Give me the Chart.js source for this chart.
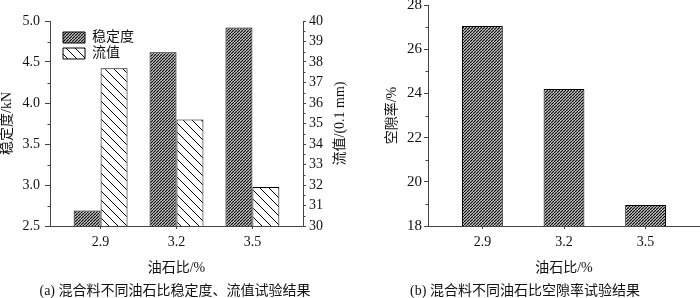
<!DOCTYPE html>
<html>
<head>
<meta charset="utf-8">
<script src="https://cdn.jsdelivr.net/npm/chart.js@4"></script>
<style>
  body { margin:0; background:#fff; }
  .row { display:flex; width:700px; height:298px; }
  canvas { display:block; }
</style>
</head>
<body>
<div class="row">
  <canvas id="c-stab" width="350" height="298"></canvas>
  <canvas id="c-void" width="350" height="298"></canvas>
</div>
<script>
// 油石比 categories and measured values
const ratios = [2.9, 3.2, 3.5];
const stability = [2.69, 4.62, 4.92];   // kN
const flowValue = [37.7, 35.2, 31.9];   // 0.1 mm
const airVoids = [27.05, 24.2, 18.95];  // %

const stabMinor = [2.75, 3.25, 3.75, 4.25, 4.75];
const flowMinor = [30.5, 31.5, 32.5, 33.5, 34.5, 35.5, 36.5, 37.5, 38.5, 39.5];
const voidMinor = [19, 21, 23, 25, 27];

const AX = '#444';
Chart.defaults.font.family = "'Liberation Serif','Noto Sans CJK SC',serif";
Chart.defaults.font.size = 14;
Chart.defaults.color = '#111';
Chart.defaults.animation = false;

function hatch(size, lw, dir, color) {
  const c = document.createElement('canvas');
  c.width = size; c.height = size;
  const g = c.getContext('2d');
  g.fillStyle = '#fff'; g.fillRect(0, 0, size, size);
  g.strokeStyle = color; g.lineWidth = lw;
  g.beginPath();
  for (let k = -1; k <= 1; k++) {
    if (dir > 0) { g.moveTo(k*size, size); g.lineTo(k*size + size, 0); }
    else { g.moveTo(k*size, 0); g.lineTo(k*size + size, size); }
  }
  g.stroke();
  return g.createPattern(c, 'repeat');
}
const densePat = hatch(3, 1.4, 1, '#111');
const sparsePat = hatch(9, 1, -1, '#000');

const pts = (vals) => ratios.map((x, i) => ({ x, y: vals[i] }));

// small minor ticks drawn through the scales
const minorTicks = {
  id: 'minorTicks',
  afterDraw(chart, args, opts) {
    const ctx = chart.ctx;
    ctx.save(); ctx.strokeStyle = AX; ctx.lineWidth = 1;
    (opts.list || []).forEach(m => {
      const s = chart.scales[m.axis];
      m.values.forEach(v => {
        const y = Math.round(s.getPixelForValue(v)) + 0.5;
        const x0 = m.side === 'left' ? s.right : s.left;
        const d = m.side === 'left' ? -2.5 : 2.5;
        ctx.beginPath(); ctx.moveTo(x0, y); ctx.lineTo(x0 + d, y); ctx.stroke();
      });
    });
    ctx.restore();
  }
};

function xScale() {
  return {
    type: 'linear', min: 2.7, max: 3.7, offset: false,
    afterBuildTicks: s => { s.ticks = ratios.map(v => ({ value: v })); },
    afterFit: s => { s.height = 52; s.paddingLeft = 0; s.paddingRight = 0; },
    ticks: { callback: v => v.toFixed(1), padding: 5, autoSkip: false, maxRotation: 0, font: { size: 14 } },
    grid: { drawOnChartArea: false, drawTicks: true, tickLength: 3, color: AX, offset: false },
    border: { display: true, color: AX },
    title: { display: true, text: '油石比/%', font: { size: 14, lineHeight: 1 }, padding: { top: 0, bottom: 3 } }
  };
}
const caption = (t) => ({ display: true, position: 'bottom', text: t, color: '#111',
  font: { size: 14, weight: 'normal', lineHeight: 1 }, padding: { top: 6, bottom: 0 } });

// (a) stability & flow value
new Chart(document.getElementById('c-stab'), {
  type: 'bar',
  data: {
    datasets: [
      { label: '稳定度', data: pts(stability), yAxisID: 'y', backgroundColor: densePat, borderColor: '#000', borderWidth: 1 },
      { label: '流值', data: pts(flowValue), yAxisID: 'y1', backgroundColor: sparsePat, borderColor: '#000', borderWidth: 1 }
    ]
  },
  options: {
    responsive: false, devicePixelRatio: 1,
    categoryPercentage: 0.71, barPercentage: 1,
    layout: { padding: { top: 21, left: 0, right: 0, bottom: 0 } },
    scales: {
      x: xScale(),
      y: {
        position: 'left', min: 2.5, max: 5.0,
        afterFit: s => { s.width = 50; s.paddingTop = 0; s.paddingBottom = 0; },
        ticks: { stepSize: 0.5, callback: v => v.toFixed(1), padding: 5, font: { size: 14 } },
        grid: { drawOnChartArea: false, tickLength: 5, color: AX },
        border: { display: true, color: AX },
        title: { display: true, text: '稳定度/kN', font: { size: 14, lineHeight: 1 }, padding: { top: 0, bottom: 0 } }
      },
      y1: {
        position: 'right', min: 30, max: 40,
        afterFit: s => { s.width = 47; s.paddingTop = 0; s.paddingBottom = 0; },
        ticks: { stepSize: 1, padding: 3, font: { size: 14 } },
        grid: { drawOnChartArea: false, tickLength: 3, color: AX },
        border: { display: true, color: AX }
      }
    },
    plugins: {
      legend: { position: 'chartArea', align: 'start',
        labels: { boxWidth: 22, boxHeight: 11, padding: 2, font: { size: 14 }, color: '#111' } },
      title: caption('(a) 混合料不同油石比稳定度、流值试验结果'),
      tooltip: { enabled: false },
      minorTicks: { list: [ { axis: 'y', side: 'left', values: stabMinor }, { axis: 'y1', side: 'right', values: flowMinor } ] }
    }
  },
  plugins: [minorTicks, {
    id: 'legendPos',
    afterLayout(chart) {
      const lg = chart.legend, a = chart.chartArea;
      if (!lg) return;
      lg.left = a.left + 11; lg.top = a.top + 7.5;
      lg.right = lg.left + lg.width; lg.bottom = lg.top + lg.height;
    }
  }, {
    id: 'rightTitle',
    afterDraw(chart) {
      const s = chart.scales.y1, ctx = chart.ctx;
      ctx.save();
      ctx.translate(s.right - 10, (s.top + s.bottom) / 2);
      ctx.rotate(-Math.PI / 2);
      ctx.font = "14px 'Liberation Serif','Noto Sans CJK SC',serif";
      ctx.fillStyle = '#111'; ctx.textAlign = 'center'; ctx.textBaseline = 'middle';
      ctx.fillText('流值/(0.1 mm)', 0, 0);
      ctx.restore();
    }
  }]
});

// (b) air voids
new Chart(document.getElementById('c-void'), {
  type: 'bar',
  data: {
    datasets: [
      { label: '空隙率', data: pts(airVoids), backgroundColor: densePat, borderColor: '#000', borderWidth: 1 }
    ]
  },
  options: {
    responsive: false, devicePixelRatio: 1,
    categoryPercentage: 0.5, barPercentage: 1,
    layout: { padding: { top: 5, left: 0, right: 0, bottom: 0 } },
    scales: {
      x: xScale(),
      y: {
        position: 'left', min: 18, max: 28,
        afterFit: s => { s.width = 78; s.paddingTop = 0; s.paddingBottom = 0; },
        ticks: { stepSize: 2, padding: 2, font: { size: 15 } },
        grid: { drawOnChartArea: false, tickLength: 4, color: AX },
        border: { display: true, color: AX },
        title: { display: true, text: '空隙率/%', font: { size: 14, lineHeight: 1 }, padding: { top: 35, bottom: 0 } }
      }
    },
    plugins: {
      legend: { display: false },
      title: caption('(b) 混合料不同油石比空隙率试验结果'),
      tooltip: { enabled: false },
      minorTicks: { list: [ { axis: 'y', side: 'left', values: voidMinor } ] }
    }
  },
  plugins: [minorTicks]
});
</script>
</body>
</html>
